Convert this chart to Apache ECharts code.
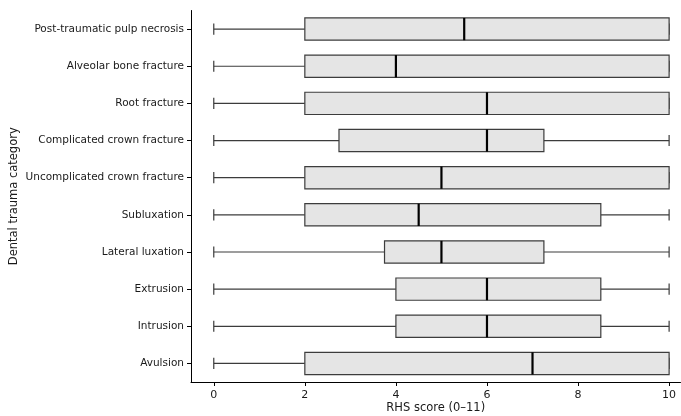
<!DOCTYPE html>
<html>
<head>
<meta charset="utf-8">
<script src="https://cdn.jsdelivr.net/npm/echarts@6/dist/echarts.min.js"></script>
<style>html,body{margin:0;padding:0;background:#fff}#c{width:681px;height:416px}</style>
</head>
<body>
<div id="c"></div>
<script>
const categories = ["Post-traumatic pulp necrosis","Alveolar bone fracture","Root fracture","Complicated crown fracture","Uncomplicated crown fracture","Subluxation","Lateral luxation","Extrusion","Intrusion","Avulsion"];
const mins    = [0, 0, 0, 0,    0, 0,   0,    0,   0,   0];
const q1s     = [2, 2, 2, 2.75, 2, 2,   3.75, 4,   4,   2];
const medians = [5.5, 4, 6, 6,  5, 4.5, 5,    6,   6,   7];
const q3s     = [10, 10, 10, 7.25, 10, 8.5, 7.25, 8.5, 8.5, 10];
const maxs    = [10, 10, 10, 10, 10, 10,  10,   10,  10,  10];
const xTicks  = [0, 2, 4, 6, 8, 10];

const data = categories.map((c, i) => [i, mins[i], q1s[i], medians[i], q3s[i], maxs[i]]);
const FONT = 'DejaVu Sans';
const EDGE = '#3c3c3c';
const TXT = '#1a1a1a';

function renderItem(params, api) {
  const cat = api.value(0);
  const px = v => api.coord([v, cat])[0];
  const y = api.coord([0, cat])[1];
  const band = api.size([0, 1])[1];
  const bh = band * 0.6;
  const ch = bh / 2;
  const mn = px(api.value(1)), q1 = px(api.value(2)), md = px(api.value(3)), q3 = px(api.value(4)), mx = px(api.value(5));
  const ls = {stroke: EDGE, lineWidth: 1.2};
  return {
    type: 'group',
    children: [
      {type: 'line', shape: {x1: mn, y1: y, x2: q1, y2: y}, style: ls},
      {type: 'line', shape: {x1: q3, y1: y, x2: mx, y2: y}, style: ls},
      {type: 'line', shape: {x1: mn, y1: y - ch / 2, x2: mn, y2: y + ch / 2}, style: ls},
      {type: 'line', shape: {x1: mx, y1: y - ch / 2, x2: mx, y2: y + ch / 2}, style: ls},
      {type: 'rect', shape: {x: q1, y: y - bh / 2, width: q3 - q1, height: bh}, style: {fill: '#e5e5e5', stroke: EDGE, lineWidth: 1.2}},
      {type: 'line', shape: {x1: md, y1: y - bh / 2, x2: md, y2: y + bh / 2}, style: {stroke: '#000', lineWidth: 2.2}}
    ]
  };
}

const chart = echarts.init(document.getElementById('c'), null, {renderer: 'canvas'});
chart.setOption({
  animation: false,
  backgroundColor: '#fff',
  grid: {left: 191, top: 10.5, right: 0.5, height: 371.5, containLabel: false, outerBoundsMode: 'none'},
  xAxis: {
    type: 'value', min: -0.5, max: 10.25,
    axisLine: {show: true, onZero: false, lineStyle: {color: '#000', width: 1}},
    axisTick: {show: true, inside: false, length: 4, lineStyle: {color: '#000', width: 1},
      customValues: xTicks},
    axisLabel: {color: TXT, fontFamily: FONT, fontSize: 11, margin: 8, customValues: xTicks},
    splitLine: {show: false},
    name: 'RHS score (0–11)', nameLocation: 'middle', nameGap: 20, nameMoveOverlap: false,
    nameTextStyle: {color: TXT, fontFamily: FONT, fontSize: 11.5}
  },
  yAxis: {
    type: 'category', data: categories, inverse: true, boundaryGap: true,
    axisLine: {show: true, onZero: false, lineStyle: {color: '#000', width: 1}},
    axisTick: {show: true, alignWithLabel: true, length: 4, lineStyle: {color: '#000', width: 1}},
    axisLabel: {color: TXT, fontFamily: FONT, fontSize: 10.5, margin: 7},
    splitLine: {show: false},
    name: 'Dental trauma category', nameLocation: 'middle', nameGap: 171, nameRotate: 90, nameMoveOverlap: false,
    nameTextStyle: {color: TXT, fontFamily: FONT, fontSize: 11.5}
  },
  series: [{
    type: 'custom',
    renderItem: renderItem,
    encode: {x: [1, 2, 3, 4, 5], y: 0},
    data: data,
    clip: false
  }]
});
</script>
</body>
</html>
